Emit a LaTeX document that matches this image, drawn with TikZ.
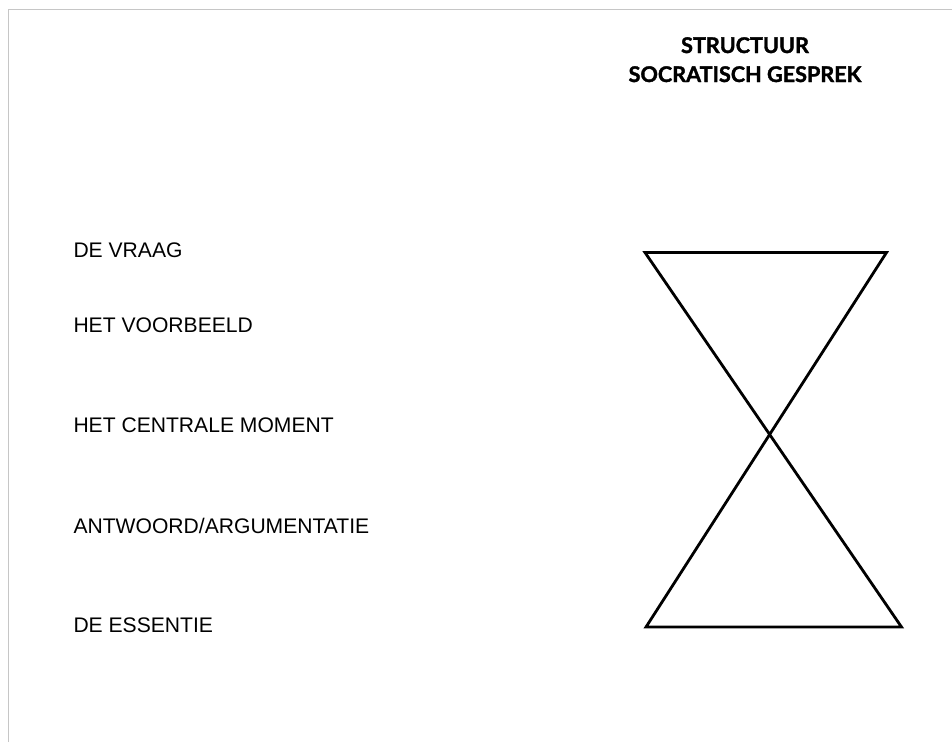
\documentclass[tikz,border=0pt]{standalone}
\usepackage{fontspec}
\setmainfont{Liberation Sans}
\newfontfamily\titlefont{Lato}[BoldFeatures={FakeBold=1.6}]
\usetikzlibrary{positioning}
\tikzset{
sheet/.style={x=1pt,y=-1pt},
frame/.style={draw=gray!45,line width=1pt},
phase/.style={anchor=base west,inner sep=0pt,
    font=\fontsize{21.1}{24}\selectfont},
heading/.style={anchor=base,inner sep=0pt,
    font=\titlefont\bfseries\fontsize{21.6}{24}\selectfont},
glass/.style={draw,line width=2.8pt,line join=miter},
}

\begin{document}
\begin{tikzpicture}[sheet]

    \useasboundingbox (0,0) rectangle (952,742);
    \draw[frame] (8.3,742) -- (8.3,9.3) -- (952,9.3);

    \node[heading] (title) at (745,53) {STRUCTUUR};
    \node[heading] (subtitle) at (745,82) {SOCRATISCH GESPREK};

    \node[phase] (vraag) at (73.3,257) {DE VRAAG};
    \node[phase] (voorbeeld) at (73.3,332) {HET VOORBEELD};
    \node[phase] (moment) at (73.3,432) {HET CENTRALE MOMENT};
    \node[phase] (antwoord) at (73.3,533) {ANTWOORD/ARGUMENTATIE};
    \node[phase] (essentie) at (73.3,632) {DE ESSENTIE};

    % zandloper
    \coordinate (tl) at (645,252.5);
    \coordinate (tr) at (886.5,252.5);
    \coordinate (bl) at (646,627);
    \coordinate (br) at (901.5,627);
    \path[glass] (tl) -- (tr) -- (bl) -- (br) -- cycle;

\end{tikzpicture}
\end{document}
